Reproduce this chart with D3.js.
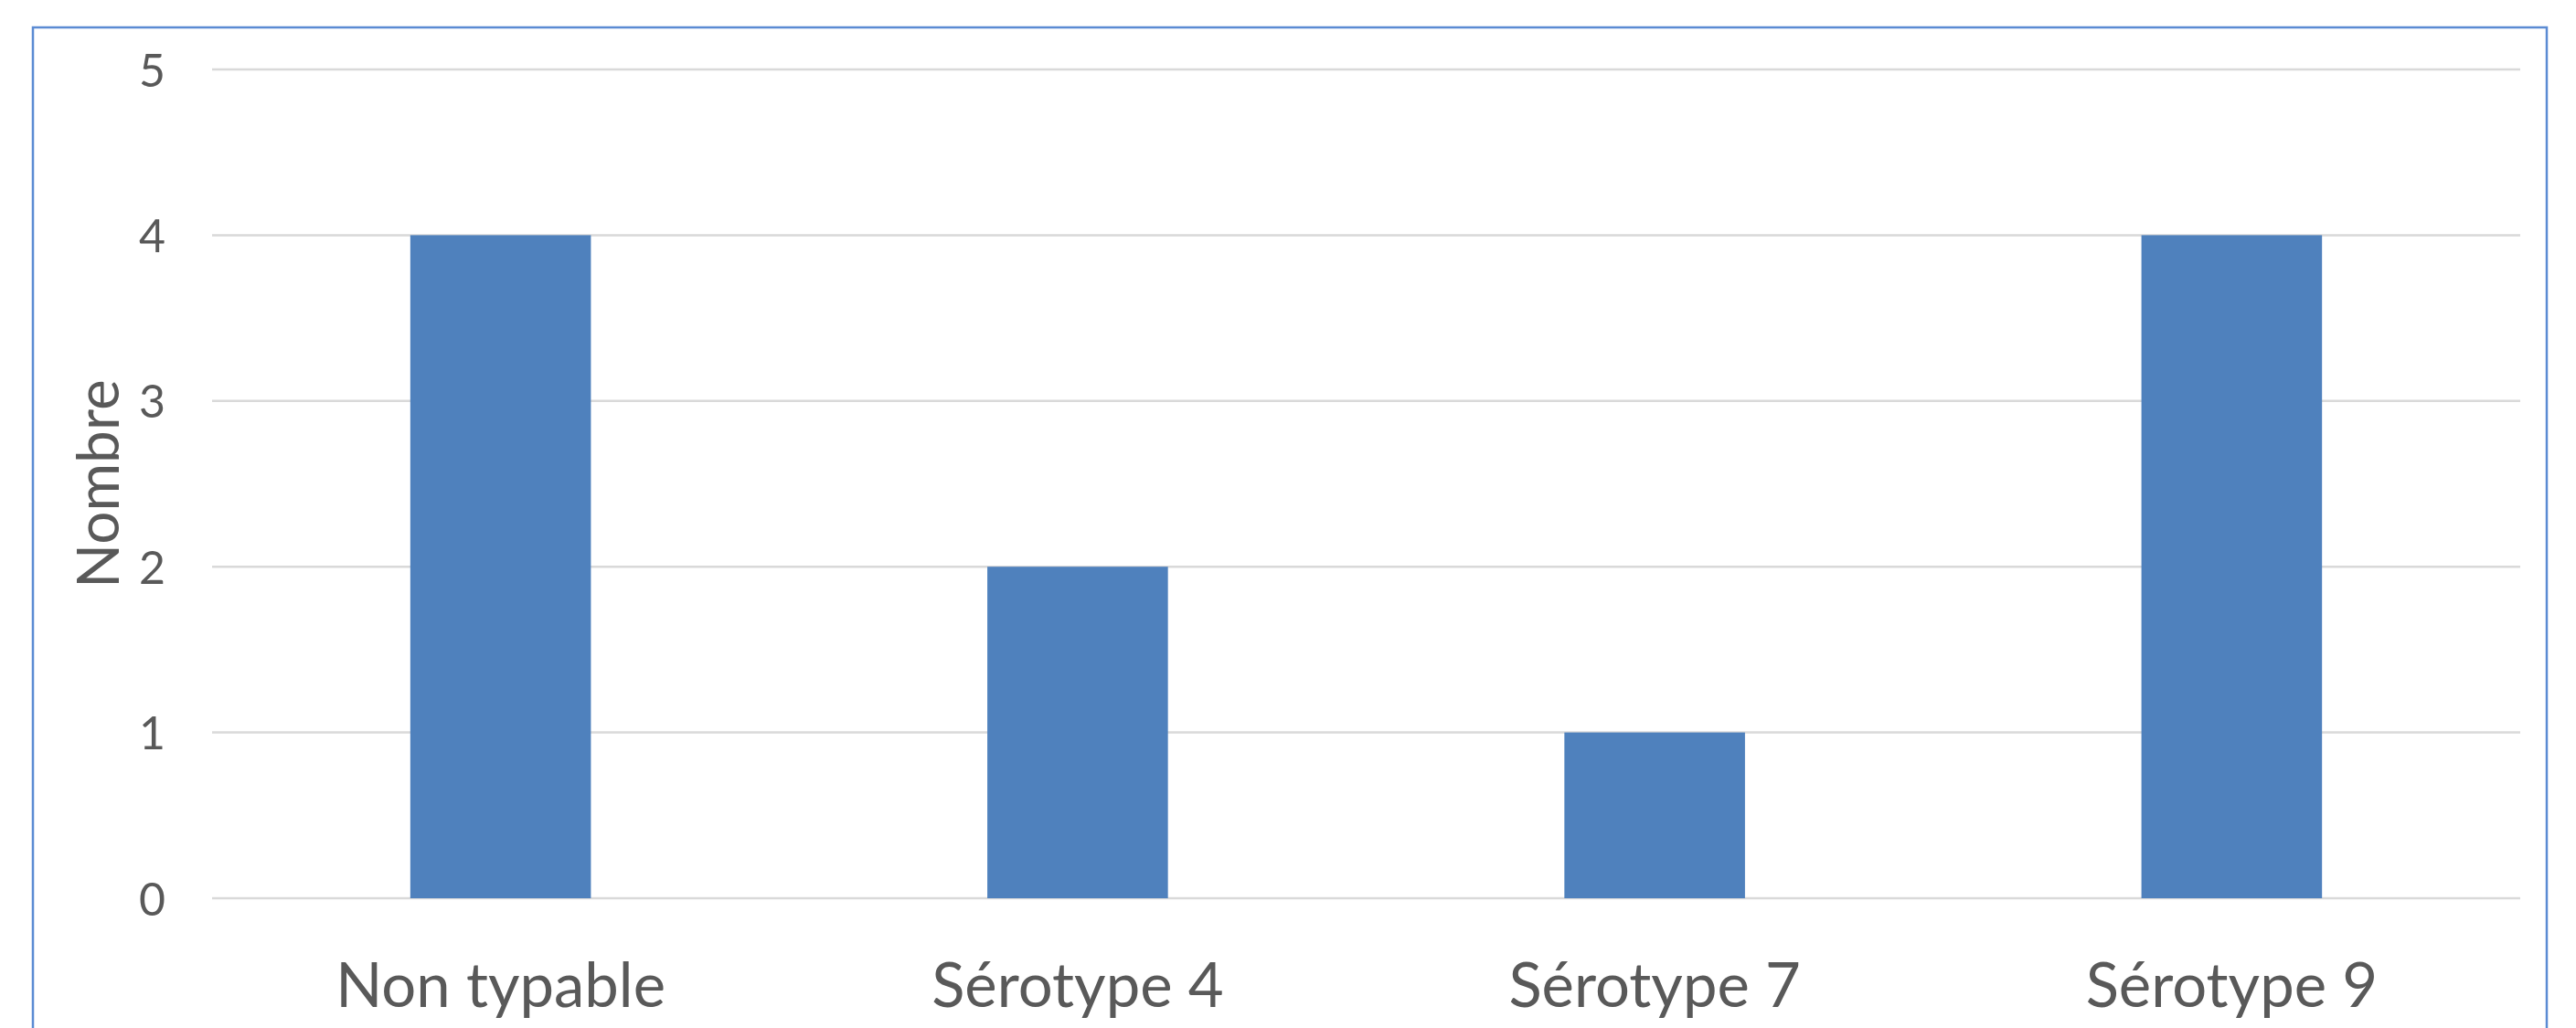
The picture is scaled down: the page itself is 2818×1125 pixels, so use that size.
<!DOCTYPE html>
<html>
<head>
<meta charset="utf-8">
<script src="https://cdn.jsdelivr.net/npm/d3@7"></script>
<style>
html,body{margin:0;padding:0;background:#fff;overflow:hidden;}
svg{display:block;}
text{font-family:Lato,"Open Sans",sans-serif;fill:#595959;}
</style>
</head>
<body>
<svg id="chart" width="2818" height="1125"></svg>
<script>
const categories = ["Non typable", "Sérotype 4", "Sérotype 7", "Sérotype 9"];
const values = [4, 2, 1, 4];
const yTicks = [0, 1, 2, 3, 4, 5];
const yTitle = "Nombre";

const svg = d3.select("#chart");
const W = 2818, H = 1125;
const plot = {left: 232, right: 2757, top: 76, bottom: 983};

// chart area border
svg.append("rect")
  .attr("x", 36).attr("y", 30)
  .attr("width", 2786 - 36).attr("height", 1200)
  .attr("fill", "none").attr("stroke", "#5b8bd3").attr("stroke-width", 2.5);

const x = d3.scaleBand().domain(categories).range([plot.left, plot.right]).paddingInner(0.687).paddingOuter(0.3435);
const y = d3.scaleLinear().domain([0, 5]).range([plot.bottom, plot.top]);

// gridlines
svg.append("g").selectAll("line").data(yTicks).join("line")
  .attr("x1", plot.left).attr("x2", plot.right)
  .attr("y1", d => y(d)).attr("y2", d => y(d))
  .attr("stroke", "#d9d9d9").attr("stroke-width", 2.5);

// y axis labels
const yAxis = d3.axisLeft(y).tickValues(yTicks).tickSize(0).tickPadding(0).tickFormat(d3.format("d"));
const gy = svg.append("g").attr("transform", `translate(181,0)`).call(yAxis);
gy.select(".domain").remove();
gy.selectAll("text").attr("font-size", 50).attr("fill", "#595959")
  .style("font-family", "Lato, 'Open Sans', sans-serif").attr("dy", "0.36em");

// bars
svg.append("g").selectAll("rect").data(values).join("rect")
  .attr("x", (d, i) => x(categories[i]))
  .attr("width", x.bandwidth())
  .attr("y", d => y(d))
  .attr("height", d => y(0) - y(d))
  .attr("fill", "#4f81bd");

// x axis labels
const xAxis = d3.axisBottom(x).tickSize(0).tickPadding(0);
const gx = svg.append("g").attr("transform", `translate(0,1102)`).call(xAxis);
gx.select(".domain").remove();
gx.selectAll("text").attr("font-size", 67).attr("fill", "#595959")
  .style("font-family", "Lato, 'Open Sans', sans-serif").attr("dy", 0).attr("y", 0);

// y title
svg.append("text")
  .attr("transform", `translate(130,${(plot.top + plot.bottom) / 2}) rotate(-90)`)
  .attr("text-anchor", "middle")
  .attr("font-size", 64)
  .text(yTitle);
</script>
</body>
</html>
